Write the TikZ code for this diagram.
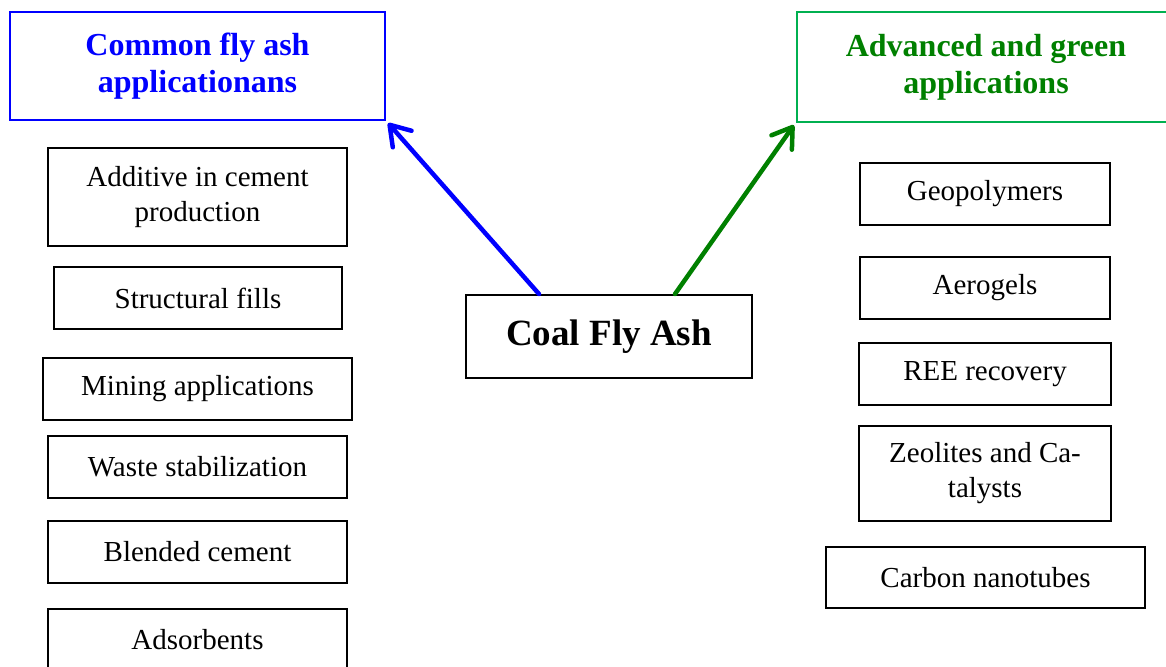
\documentclass[tikz,border=0pt]{standalone}
\usepackage{fontspec}
\setmainfont{Liberation Serif}
\usetikzlibrary{arrows.meta,calc}
\definecolor{tblue}{RGB}{0,0,255}
\definecolor{tgreen}{RGB}{0,128,0}
\definecolor{bgreen}{RGB}{0,176,80}
\tikzset{
  itembox/.style={draw=black, line width=1.6pt, inner sep=0pt, align=center,
    font=\fontsize{29}{35}\selectfont},
  titlebox/.style={line width=2.2pt, inner sep=0pt, align=center,
    font=\fontsize{32}{37}\selectfont\bfseries},
  mainbox/.style={draw=black, line width=2pt, inner sep=0pt, align=center,
    font=\fontsize{37}{42}\selectfont\bfseries},
  branch/.style={line width=4.5pt, line cap=round,
    -{Straight Barb[length=19pt,width=25pt,round]}}
}
\begin{document}
\begin{tikzpicture}[x=1pt,y=-1pt]
\useasboundingbox (0,0) rectangle (1166,666);
% titles
\node[titlebox, draw=tblue, text=tblue, minimum width=375pt, minimum height=108pt]
  (common) at (197.5,66) {Common fly ash\\applicationans};
\node[titlebox, draw=bgreen, text=tgreen, minimum width=378pt, minimum height=110pt]
  (advanced) at (986,67) {Advanced and green\\applications};
% centre
\node[mainbox, minimum width=286pt, minimum height=83pt]
  (cfa) at (609,336.5) {\raisebox{5pt}{Coal Fly Ash}};
% left items
\node[itembox, minimum width=299pt, minimum height=98pt] (l1) at (197.5,197) {Additive in cement\\production};
\node[itembox, minimum width=288pt, minimum height=62pt] (l2) at (198,298) {Structural fills};
\node[itembox, minimum width=309pt, minimum height=62pt] (l3) at (197.5,389) {Mining applications};
\node[itembox, minimum width=299pt, minimum height=62pt] (l4) at (197.5,467) {Waste stabilization};
\node[itembox, minimum width=299pt, minimum height=62pt] (l5) at (197.5,552) {Blended cement};
\node[itembox, minimum width=299pt, minimum height=62pt] (l6) at (197.5,640) {Adsorbents};
% right items
\node[itembox, minimum width=250pt, minimum height=62pt] (r1) at (985,194) {Geopolymers};
\node[itembox, minimum width=250pt, minimum height=62pt] (r2) at (985,288) {Aerogels};
\node[itembox, minimum width=252pt, minimum height=62pt] (r3) at (985,374) {REE recovery};
\node[itembox, minimum width=252pt, minimum height=95pt] (r4) at (985,473.5) {Zeolites and Ca-\\talysts};
\node[itembox, minimum width=319pt, minimum height=61pt] (r5) at (985.5,577.5) {Carbon nanotubes};
% arrows
\coordinate (bstart) at ($(cfa.north west)+(74,0)$);
\coordinate (gstart) at ($(cfa.north west)+(210,0)$);
\draw[branch, tblue] (bstart) -- ($(common.south east)+(2,2)$);
\draw[branch, tgreen] (gstart) -- ($(advanced.south west)+(-2,2)$);
\end{tikzpicture}
\end{document}
